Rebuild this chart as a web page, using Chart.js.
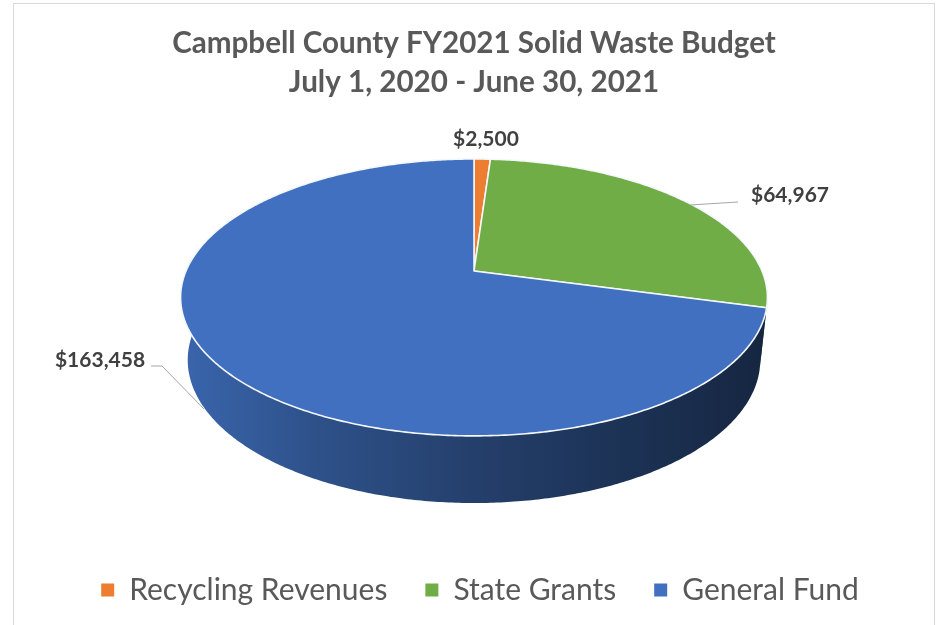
<!DOCTYPE html>
<html>
<head>
<meta charset="utf-8">
<title>Campbell County FY2021 Solid Waste Budget</title>
<script src="https://cdn.jsdelivr.net/npm/chart.js@4"></script>
<style>
  html, body { margin: 0; padding: 0; background: #fff; overflow: hidden; }
  #wrap { position: relative; width: 936px; height: 625px; }
  #frame { position: absolute; left: 13px; top: 3px; width: 920px; height: 640px; border: 1px solid #d9d9d9; }
  canvas { position: absolute; left: 0; top: 0; }
</style>
</head>
<body>
<div id="wrap">
  <div id="frame"></div>
  <canvas id="chart" width="936" height="625"></canvas>
</div>
<script>
const categories = ["Recycling Revenues", "State Grants", "General Fund"];
const budgetValues = [2500, 64967, 163458];
const sliceColors = ["#ED7D31", "#70AD47", "#4070BF"];
const titleLines = ["Campbell County FY2021 Solid Waste Budget", "July 1, 2020 - June 30, 2021"];

// 3D look: the flat pie's angles get pushed through a perspective projection
const TOP_FACE = { cx: 474, cy: 271, a: 288, b: 133.4, c: -0.191 };
const BASE_RIM = { cx: 474, cy: 332.7, a: 281, b: 137.8, c: -0.191 };

// label anchors + leader lines (per slice)
const labelSpots = [
  { x: 486, y: 139, leader: null },
  { x: 790, y: 195, leader: [[738, 202], [690, 205]] },
  { x: 100, y: 360, leader: [[151, 366], [162, 366], [204, 409]] },
];

function project(p, angle) {
  const u = Math.cos(angle);
  const v = Math.sin(angle);
  const w = 1 + p.c * v;
  return { x: p.cx + (p.a * u) / w, y: p.cy + (p.b * v) / w };
}

function shade(hex, f) {
  const n = parseInt(hex.slice(1), 16);
  const r = Math.round(((n >> 16) & 255) * f);
  const g = Math.round(((n >> 8) & 255) * f);
  const b = Math.round((n & 255) * f);
  return `rgb(${r},${g},${b})`;
}

function fmtUSD(n) {
  return "$" + n.toLocaleString("en-US");
}

function sweep(p, from, to, ctx) {
  const steps = Math.max(2, Math.ceil(Math.abs(to - from) / 0.01));
  for (let i = 0; i <= steps; i++) {
    const pt = project(p, from + ((to - from) * i) / steps);
    ctx.lineTo(pt.x, pt.y);
  }
}

const pie3dPlugin = {
  id: "pie3d",
  afterLayout(chart) {
    // legend sits a bit right of the title in the original
    chart.legend.left += 6;
    chart.legend.right += 6;
  },
  beforeDatasetsDraw(chart) {
    const ctx = chart.ctx;
    const arcs = chart.getDatasetMeta(0).data;

    // side wall first
    arcs.forEach((arc, i) => {
      const g = ctx.createLinearGradient(184, 0, 765, 0);
      const col = sliceColors[i];
      g.addColorStop(0, shade(col, 0.9));
      g.addColorStop(0.2, shade(col, 0.74));
      g.addColorStop(0.5, shade(col, 0.56));
      g.addColorStop(0.72, shade(col, 0.46));
      g.addColorStop(1, shade(col, 0.34));

      ctx.beginPath();
      sweep(TOP_FACE, arc.startAngle, arc.endAngle, ctx);
      sweep(BASE_RIM, arc.endAngle, arc.startAngle, ctx);
      ctx.closePath();
      ctx.fillStyle = g;
      ctx.fill();
    });

    // then the top face, white outline on each slice
    arcs.forEach((arc, i) => {
      ctx.beginPath();
      ctx.moveTo(TOP_FACE.cx, TOP_FACE.cy);
      sweep(TOP_FACE, arc.startAngle, arc.endAngle, ctx);
      ctx.closePath();
      ctx.fillStyle = sliceColors[i];
      ctx.fill();
      ctx.strokeStyle = "#f4f7fb";
      ctx.lineWidth = 1.6;
      ctx.lineJoin = "round";
      ctx.stroke();
    });

    return false; // the flat pie itself is not drawn
  },
  afterDraw(chart) {
    const ctx = chart.ctx;
    ctx.save();
    ctx.font = "bold 21px Lato";
    ctx.textAlign = "center";
    ctx.textBaseline = "middle";
    budgetValues.forEach((val, i) => {
      const spot = labelSpots[i];
      if (spot.leader) {
        ctx.beginPath();
        spot.leader.forEach(([x, y], k) => (k ? ctx.lineTo(x, y) : ctx.moveTo(x, y)));
        ctx.strokeStyle = "#a6a6a6";
        ctx.lineWidth = 1;
        ctx.stroke();
      }
      ctx.fillStyle = "#404040";
      ctx.fillText(fmtUSD(val), spot.x, spot.y);
    });
    ctx.restore();
  },
};

new Chart(document.getElementById("chart"), {
  type: "pie",
  data: {
    labels: categories,
    datasets: [{ data: budgetValues, backgroundColor: sliceColors, borderWidth: 0 }],
  },
  plugins: [pie3dPlugin],
  options: {
    responsive: false,
    animation: false,
    layout: { padding: { top: 23, bottom: 10, left: 12 } },
    plugins: {
      tooltip: { enabled: false },
      title: {
        display: true,
        text: titleLines,
        color: "#595959",
        font: { family: "Lato", size: 29.6, weight: "bold", lineHeight: 1.35 },
        padding: { top: 0, bottom: 20 },
      },
      legend: {
        position: "bottom",
        labels: {
          color: "#595959",
          font: { family: "Lato", size: 30 },
          boxWidth: 13,
          boxHeight: 13,
          padding: 38,
        },
      },
    },
  },
});
</script>
</body>
</html>
